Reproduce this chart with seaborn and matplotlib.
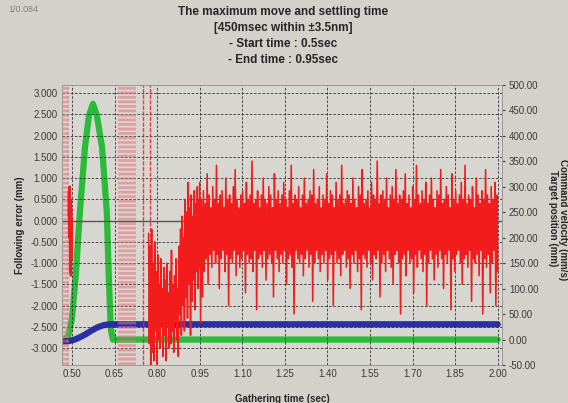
import numpy as np
import pandas as pd
import seaborn as sns
import matplotlib
matplotlib.use('Agg')
import matplotlib.pyplot as plt

sns.set_style('white')
plt.rcParams['font.family'] = ['Liberation Sans', 'DejaVu Sans']

BG = '#d4d1ca'
PLOT_BG = '#d8d6d0'

# command velocity (right axis, mm/s)
vel_t = [0.465, 0.486, 0.500, 0.514, 0.528, 0.546, 0.560, 0.574, 0.588, 0.606, 0.623, 0.630, 0.637, 0.644, 2.000]
vel_v = [0, 5, 40, 130, 250, 378, 440, 463, 440, 378, 250, 120, 20, 0, 0]

# target position (right axis, mm)
pos_t = [0.465, 0.490, 0.510, 0.530, 0.550, 0.570, 0.590, 0.610, 0.630, 0.650, 2.000]
pos_v = [-4, -3, 0, 5, 11, 18, 24, 28, 30, 30, 30]

# following error (left axis, mm)
err_a = [0.1, 0.7, -0.4, 0.8, -1.2, 0.5, -1.3, 0.3, -0.9, 0.0]
err_b = [-0.3, -2.9, -0.6, -3.4, -0.2, -3.1, -1.0, -3.3, -0.5, -2.6, -1.2, -3.4, -0.8, -2.8,
         -1.5, -3.0, -0.9, -2.4, -1.6, -3.2, -1.1, -2.7, -1.4, -3.3, -1.0, -2.5, -1.7, -3.0,
         -1.2, -2.9, -0.7, -2.6, -1.5, -3.1, -1.3, -2.4, -0.9, -2.8, -1.6, -3.2, -0.6, -2.2,
         -0.2, -2.7, 0.1, -2.0, -0.4, -2.6, 0.5, -1.8, 0.2, -2.3, 0.9, -1.5, 0.3, -2.7,
         0.6, -1.9, 0.1, -1.4, 0.7, -2.1, 0.4, -1.2, 0.8, -1.6, 0.5, -1.1]
err_hi = [0.9, 0.5, 0.7, 0.4, 1.1, 0.6, 0.3, 0.8, 0.5, 1.3, 0.4, 0.6, 0.7, 0.3, 1.0, 0.5,
          0.6, 0.4, 0.8, 1.2, 0.5, 0.3, 0.6, 0.7, 0.4, 0.9, 0.5, 0.6, 1.4, 0.4, 0.5, 0.7,
          0.3, 0.6, 1.0, 0.5, 0.4, 0.8, 0.6, 0.3, 1.1, 0.5, 0.7, 0.4, 0.6, 0.9, 0.5, 0.3,
          0.7, 1.3, 0.4, 0.6, 0.5, 0.8, 0.3, 0.6, 1.0, 0.4, 0.5, 0.7, 0.6, 1.2, 0.4, 0.5,
          0.8, 0.3, 0.6, 0.5, 1.1, 0.4, 0.7, 0.6, 0.3, 0.9, 0.5, 0.6, 1.3, 0.4, 0.5, 0.7,
          0.6, 0.4, 1.0, 0.5, 0.3, 0.8, 0.6, 1.2, 0.4, 0.5, 0.7, 0.3, 0.9, 0.6, 0.5, 1.4,
          0.4, 0.6, 0.7, 0.5, 1.0, 0.3, 0.6, 0.8, 0.5, 1.2, 0.4, 0.6, 0.5, 0.7, 1.1, 0.4,
          0.6, 0.3, 0.8, 0.5, 1.3, 0.6, 0.4, 0.7, 0.5, 0.9, 0.4, 0.6, 1.0, 0.5, 0.3, 0.7,
          0.6, 1.2, 0.4, 0.5, 0.8, 0.6, 0.3, 1.1, 0.5, 0.7, 0.4, 0.6, 0.9, 0.5, 1.3, 0.4,
          0.6, 0.5, 0.8, 0.3, 1.0, 0.6, 0.4, 0.7, 0.5, 1.2, 0.6, 0.4, 0.8, 0.5, 0.9, 0.6]
err_lo = [-2.4, -1.8, -1.2, -0.9, -1.5, -0.8, -1.1, -0.7, -1.0, -0.8, -1.6, -0.9, -0.7, -1.2, -0.8, -2.0,
          -0.9, -1.0, -0.7, -1.3, -0.8, -1.1, -0.9, -0.7, -1.7, -0.8, -1.0, -0.9, -1.2, -0.7, -2.1, -0.9,
          -0.8, -1.1, -0.7, -1.4, -0.9, -0.8, -1.0, -1.8, -0.7, -0.9, -1.2, -0.8, -1.0, -0.7, -1.5, -0.9,
          -0.8, -1.1, -2.2, -0.7, -0.9, -1.0, -0.8, -1.3, -0.9, -0.7, -1.1, -0.8, -1.9, -1.0, -0.7, -0.9,
          -1.2, -0.8, -1.0, -0.7, -1.4, -0.9, -0.8, -2.0, -0.7, -1.0, -0.9, -1.3, -0.8, -0.7, -1.1, -0.9,
          -1.6, -0.8, -1.0, -0.7, -1.2, -0.9, -2.1, -0.8, -0.9, -1.1, -0.7, -1.0, -1.4, -0.8, -0.9, -0.7,
          -1.8, -1.0, -0.8, -1.2, -0.7, -0.9, -1.1, -1.5, -0.8, -0.7, -1.0, -2.2, -0.9, -0.8, -1.3, -0.7,
          -1.0, -0.9, -1.7, -0.8, -1.1, -0.7, -0.9, -1.2, -0.8, -2.0, -1.0, -0.7, -0.9, -1.4, -0.8, -1.1,
          -0.7, -0.9, -1.6, -0.8, -1.0, -0.7, -2.1, -0.9, -1.2, -0.8, -0.7, -1.0, -1.5, -0.9, -0.8, -1.1,
          -0.7, -1.9, -0.9, -1.0, -0.8, -1.3, -0.7, -2.2, -0.9, -1.1, -0.8, -1.7, -1.0, -0.7, -2.0, -1.2]

# dotted marker lines seen on the trace
faint_marks = [0.469, 0.475, 0.481, 0.487, 0.666, 0.673, 0.680, 0.687, 0.694, 0.701, 0.708, 0.715, 0.722]
strong_marks = [0.750, 0.775]

x_ticks = [0.50, 0.65, 0.80, 0.95, 1.10, 1.25, 1.40, 1.55, 1.70, 1.85, 2.00]
left_ticks = [-3.0, -2.5, -2.0, -1.5, -1.0, -0.5, 0.0, 0.5, 1.0, 1.5, 2.0, 2.5, 3.0]
right_ticks = [-50, 0, 50, 100, 150, 200, 250, 300, 350, 400, 450, 500]

vel = pd.DataFrame({'t': vel_t, 'v': vel_v})
pos = pd.DataFrame({'t': pos_t, 'v': pos_v})
seg_a = pd.DataFrame({'t': np.linspace(0.488, 0.500, len(err_a)), 'e': err_a})
seg_b = pd.DataFrame({'t': np.linspace(0.770, 0.950, len(err_b)), 'e': err_b})
band = [v for pair in zip(err_hi, err_lo) for v in pair]
seg_c = pd.DataFrame({'t': np.linspace(0.950, 2.000, len(band)), 'e': band})

fig = plt.figure(figsize=(5.68, 4.03), dpi=100, facecolor=BG)
ax = fig.add_axes([62 / 568, 1 - 365 / 403, 440 / 568, 280 / 403])
ax2 = ax.twinx()
ax.set_zorder(2)
ax2.set_zorder(1)
ax.patch.set_visible(False)
ax2.patch.set_visible(True)
ax2.patch.set_facecolor(PLOT_BG)

# right axis: velocity and position
sns.lineplot(data=vel, x='t', y='v', ax=ax2, color='#2bbb3a', lw=4.5,
             estimator=None, sort=False)
sns.lineplot(data=pos, x='t', y='v', ax=ax2, color='#2b2fa6', lw=4.5,
             estimator=None, sort=False)

# left axis: following error
for m in faint_marks:
    ax.axvline(m, color='#e8707c', lw=1.3, ls=(0, (1.5, 1)), alpha=0.6, zorder=1)
for m in strong_marks:
    ax.axvline(m, color='#ee2030', lw=1.0, ls=(0, (3, 1)), alpha=0.85, zorder=1)
ax.axhline(0, color='#555555', lw=1.0, zorder=1)
sns.lineplot(data=seg_a, x='t', y='e', ax=ax, color='#f21c1c', lw=1.6,
             estimator=None, sort=False, zorder=3)
for seg in [seg_b, seg_c]:
    sns.lineplot(data=seg, x='t', y='e', ax=ax, color='#f21c1c', lw=1.15,
                 estimator=None, sort=False, zorder=3)

ax.set_xlim(0.465, 2.015)
ax.set_ylim(-3.40, 3.19)
ax2.set_ylim(-50, 500)

ax.set_xticks(x_ticks)
ax.set_xticklabels([f'{v:.2f}' for v in x_ticks])
ax.set_yticks(left_ticks)
ax.set_yticklabels([f'{v:.3f}' for v in left_ticks])
ax2.set_yticks(right_ticks)
ax2.set_yticklabels([f'{v:.2f}' for v in right_ticks])

ax.grid(True, color='#303030', lw=0.6, ls=(0, (3, 2)))
ax.tick_params(axis='both', labelsize=7, colors='#3a3a3a', length=0, pad=3)
ax2.tick_params(axis='y', labelsize=7, colors='#3a3a3a', length=2, pad=3)
for a in (ax, ax2):
    for s in a.spines.values():
        s.set_color('#9a9a9a')
        s.set_linewidth(0.6)

ax.set_xlabel('Gathering time (sec)', fontsize=7, fontweight='bold', labelpad=11)
ax.set_ylabel('Following error (mm)', fontsize=7, fontweight='bold', labelpad=4)
ax2.set_ylabel('')
fig.text(553 / 568, 1 - 218 / 403, 'Target position (mm)', rotation=-90,
         fontsize=7, fontweight='bold', ha='center', va='center')
fig.text(563 / 568, 1 - 220 / 403, 'Command velocity (mm/s)', rotation=-90,
         fontsize=7, fontweight='bold', ha='center', va='center')

fig.text(0.498, 1 - 6 / 403,
         'The maximum move and settling time\n[450msec within \u00b13.5nm]\n'
         '- Start time : 0.5sec\n- End time : 0.95sec',
         ha='center', va='top', fontsize=8.5, fontweight='bold', linespacing=1.45)
fig.text(8 / 568, 1 - 10 / 403, '1/0.084', fontsize=6.5, color='#808080', va='center')

fig.savefig('out.png', dpi=100, facecolor=BG)
